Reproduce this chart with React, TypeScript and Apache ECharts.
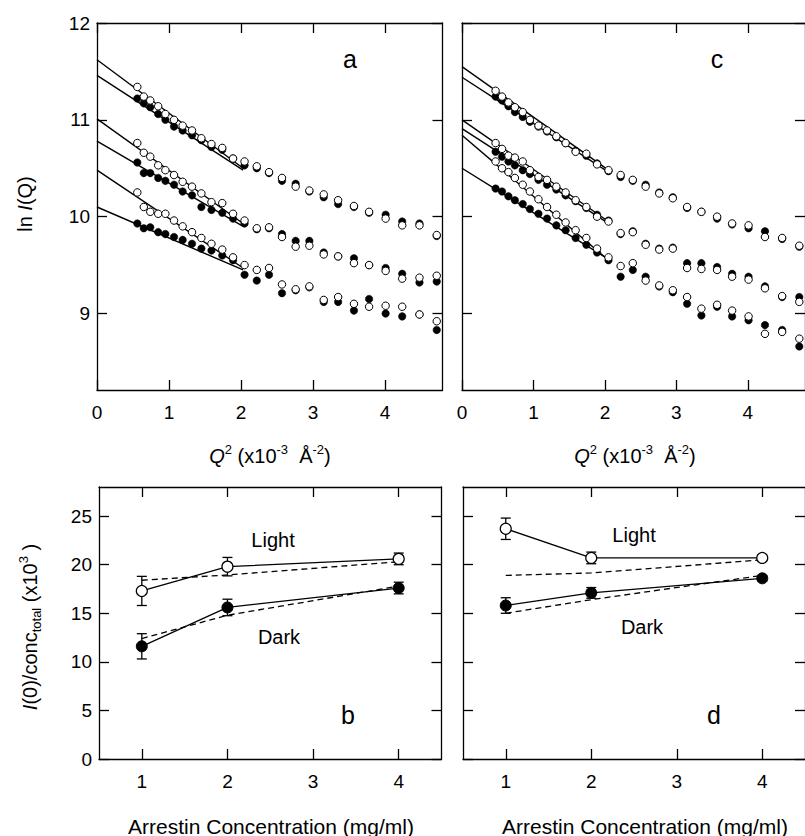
import React, { useEffect, useRef } from 'react';
import * as echarts from 'echarts';

const FONT = '"Liberation Sans", Arial, Helvetica, sans-serif';
const BLACK = '#000';

// ---------- Panel a (Guinier plot, left) ----------
const qA = [0.56, 0.65, 0.74, 0.85, 0.95, 1.07, 1.19, 1.32, 1.45, 1.59, 1.74, 1.89, 2.05, 2.22, 2.39, 2.57, 2.76, 2.95, 3.15, 3.35, 3.57, 3.78, 4.01, 4.24, 4.48, 4.72];
const aTopOpen = [11.34, 11.24, 11.2, 11.14, 11.06, 11.0, 10.94, 10.89, 10.81, 10.75, 10.71, 10.6, 10.57, 10.52, 10.46, 10.4, 10.31, 10.27, 10.23, 10.17, 10.11, 10.05, 9.98, 9.91, 9.91, 9.81];
const aTopFilled = [11.22, 11.17, 11.13, 11.06, 11.0, 10.93, 10.89, 10.84, 10.79, 10.72, 10.69, 10.6, 10.53, 10.5, 10.45, 10.37, 10.34, 10.26, 10.2, 10.13, 10.1, 10.04, 10.02, 9.95, 9.93, 9.8];
const aMidOpen = [10.76, 10.66, 10.62, 10.53, 10.48, 10.43, 10.36, 10.31, 10.24, 10.15, 10.14, 10.03, 9.96, 9.88, 9.89, 9.79, 9.69, 9.7, 9.61, 9.59, 9.52, 9.5, 9.44, 9.36, 9.37, 9.39];
const aMidFilled = [10.56, 10.45, 10.45, 10.4, 10.37, 10.33, 10.26, 10.22, 10.1, 10.07, 10.04, 9.98, 9.93, 9.87, 9.88, 9.82, 9.75, 9.75, 9.63, 9.59, 9.57, 9.5, 9.47, 9.41, 9.32, 9.33];
const aLowOpen = [10.25, 10.1, 10.05, 10.03, 10.03, 9.96, 9.9, 9.84, 9.78, 9.72, 9.66, 9.58, 9.5, 9.45, 9.47, 9.3, 9.25, 9.28, 9.14, 9.17, 9.1, 9.07, 9.08, 9.07, 8.99, 8.92];
const aLowFilled = [9.93, 9.88, 9.89, 9.84, 9.82, 9.79, 9.76, 9.72, 9.67, 9.65, 9.6, 9.55, 9.4, 9.34, 9.4, 9.21, 9.24, 9.27, 9.12, 9.12, 9.03, 9.15, 9.0, 8.97, 8.99, 8.83];
const aFitX = [0, 2.03];
const aFitTopOpen = [11.62, 10.5];
const aFitTopFilled = [11.46, 10.48];
const aFitMidOpen = [11.01, 9.93];
const aFitMidFilled = [10.78, 9.9];
const aFitLowOpen = [10.48, 9.47];
const aFitLowFilled = [10.1, 9.45];

// ---------- Panel c (Guinier plot, right) ----------
const qC = [0.47, 0.56, 0.65, 0.74, 0.85, 0.95, 1.07, 1.19, 1.32, 1.45, 1.59, 1.74, 1.89, 2.05, 2.22, 2.39, 2.57, 2.76, 2.95, 3.15, 3.35, 3.57, 3.78, 4.01, 4.24, 4.48, 4.72];
const cTopOpen = [11.3, 11.24, 11.18, 11.13, 11.08, 11.0, 10.94, 10.89, 10.83, 10.76, 10.67, 10.65, 10.54, 10.48, 10.43, 10.38, 10.31, 10.24, 10.19, 10.1, 10.05, 10.0, 9.93, 9.91, 9.79, 9.78, 9.7];
const cTopFilled = [11.24, 11.2, 11.14, 11.08, 11.03, 10.98, 10.93, 10.88, 10.82, 10.76, 10.68, 10.63, 10.55, 10.47, 10.41, 10.37, 10.33, 10.25, 10.2, 10.09, 10.05, 9.98, 9.92, 9.88, 9.85, 9.77, 9.69];
const cMidOpen = [10.76, 10.7, 10.63, 10.61, 10.57, 10.48, 10.41, 10.38, 10.31, 10.25, 10.17, 10.1, 10.0, 9.95, 9.83, 9.84, 9.71, 9.66, 9.67, 9.47, 9.46, 9.45, 9.38, 9.35, 9.26, 9.18, 9.12];
const cMidFilled = [10.67, 10.62, 10.57, 10.53, 10.48, 10.44, 10.38, 10.33, 10.28, 10.22, 10.16, 10.09, 10.02, 9.96, 9.82, 9.85, 9.72, 9.67, 9.68, 9.52, 9.52, 9.48, 9.41, 9.38, 9.28, 9.17, 9.17];
const cLowOpen = [10.57, 10.5, 10.46, 10.4, 10.33, 10.26, 10.18, 10.1, 10.02, 9.94, 9.86, 9.78, 9.67, 9.58, 9.49, 9.52, 9.34, 9.29, 9.24, 9.17, 9.05, 9.09, 9.03, 8.97, 8.79, 8.81, 8.74];
const cLowFilled = [10.29, 10.26, 10.21, 10.17, 10.13, 10.08, 10.03, 9.98, 9.91, 9.86, 9.78, 9.71, 9.63, 9.55, 9.38, 9.45, 9.38, 9.28, 9.22, 9.1, 8.98, 9.07, 8.97, 8.93, 8.88, 8.83, 8.66];
const cFitX = [0, 2.05];
const cFitTopOpen = [11.55, 10.48];
const cFitTopFilled = [11.44, 10.46];
const cFitMidOpen = [11.0, 9.95];
const cFitMidFilled = [10.91, 9.93];
const cFitLowOpen = [10.84, 9.55];
const cFitLowFilled = [10.5, 9.56];

// ---------- Panels b & d ----------
const conc = [1, 2, 4];
const bLight = [17.3, 19.8, 20.6];
const bLightErr = [1.5, 0.95, 0.6];
const bLightFit = [18.4, 18.95, 20.3];
const bDark = [11.6, 15.6, 17.6];
const bDarkErr = [1.3, 0.85, 0.6];
const bDarkFit = [12.4, 14.8, 17.8];
const dLight = [23.7, 20.7, 20.7];
const dLightErr = [1.1, 0.6, 0.3];
const dLightFit = [18.9, 19.15, 20.5];
const dDark = [15.8, 17.1, 18.6];
const dDarkErr = [0.8, 0.55, 0.3];
const dDarkFit = [15.0, 16.4, 18.9];

// ---------- Ticks ----------
const q2Ticks = [0, 1, 2, 3, 4];
const lnTicks = [9, 10, 11, 12];
const concTicks = [1, 2, 3, 4];
const ratioTicks = [0, 5, 10, 15, 20, 25];

const zip = (xs: number[], ys: number[]) => xs.map((x, i) => [x, ys[i]]);

const lineStyle = { color: BLACK, width: 1.3 };

function xAxes(g: number, min: number, max: number, ticks: number[], labels: boolean) {
  const base: any = {
    type: 'value', gridIndex: g, min, max,
    splitLine: { show: false },
    axisLine: { show: true, onZero: false, lineStyle },
    axisTick: { show: true, inside: true, length: 10, customValues: ticks, lineStyle },
  };
  return [
    { ...base, position: 'bottom', axisLabel: { show: labels, customValues: ticks, margin: 13, color: BLACK, fontSize: 19, fontFamily: FONT } },
    { ...base, position: 'top', axisLabel: { show: false } },
  ];
}

function yAxes(g: number, min: number, max: number, ticks: number[], labels: boolean) {
  const base: any = {
    type: 'value', gridIndex: g, min, max,
    splitLine: { show: false },
    axisLine: { show: true, onZero: false, lineStyle },
    axisTick: { show: true, inside: true, length: 10, customValues: ticks, lineStyle },
  };
  return [
    { ...base, position: 'left', axisLabel: { show: labels, customValues: ticks, margin: 7, color: BLACK, fontSize: 19, fontFamily: FONT } },
    { ...base, position: 'right', axisLabel: { show: false } },
  ];
}

function scatter(g: number, xs: number[], ys: number[], open: boolean) {
  return {
    type: 'scatter', xAxisIndex: 2 * g, yAxisIndex: 2 * g, silent: true,
    data: zip(xs, ys), symbol: 'circle', symbolSize: 7.5,
    itemStyle: open
      ? { color: '#fff', borderColor: BLACK, borderWidth: 1, opacity: 1 }
      : { color: BLACK, borderColor: BLACK, borderWidth: 0.5, opacity: 1 },
    z: open ? 4 : 3,
  };
}

function fitLine(g: number, xs: number[], ys: number[]) {
  return {
    type: 'line', xAxisIndex: 2 * g, yAxisIndex: 2 * g, silent: true,
    data: zip(xs, ys), symbol: 'none', showSymbol: false,
    lineStyle: { color: BLACK, width: 1.4 }, z: 2,
  };
}

function errorBars(g: number, xs: number[], ys: number[], errs: number[]) {
  return {
    type: 'custom', xAxisIndex: 2 * g, yAxisIndex: 2 * g, silent: true, z: 2,
    data: xs.map((x, i) => [x, ys[i] - errs[i], ys[i] + errs[i]]),
    encode: { x: 0, y: [1, 2] },
    renderItem: (_p: any, api: any) => {
      const lo = api.coord([api.value(0), api.value(1)]);
      const hi = api.coord([api.value(0), api.value(2)]);
      const hw = 5;
      const style = { stroke: BLACK, lineWidth: 1.3 };
      return {
        type: 'group',
        children: [
          { type: 'line', shape: { x1: lo[0], y1: lo[1], x2: hi[0], y2: hi[1] }, style },
          { type: 'line', shape: { x1: lo[0] - hw, y1: lo[1], x2: lo[0] + hw, y2: lo[1] }, style },
          { type: 'line', shape: { x1: hi[0] - hw, y1: hi[1], x2: hi[0] + hw, y2: hi[1] }, style },
        ],
      };
    },
  };
}

function dataLine(g: number, ys: number[], open: boolean) {
  return {
    type: 'line', xAxisIndex: 2 * g, yAxisIndex: 2 * g, silent: true,
    data: zip(conc, ys), symbol: 'circle', symbolSize: 11, showSymbol: true,
    lineStyle: { color: BLACK, width: 1.3 },
    itemStyle: open
      ? { color: '#fff', borderColor: BLACK, borderWidth: 1.2, opacity: 1 }
      : { color: BLACK, borderColor: BLACK, borderWidth: 1, opacity: 1 },
    z: 4,
  };
}

function dashLine(g: number, ys: number[]) {
  return {
    type: 'line', xAxisIndex: 2 * g, yAxisIndex: 2 * g, silent: true,
    data: zip(conc, ys), symbol: 'none', showSymbol: false,
    lineStyle: { color: BLACK, width: 1.3, type: [6, 4] }, z: 3,
  };
}

const txt = (x: number, y: number, text: string, fontSize: number, extra: any = {}) => ({
  type: 'text', x, y, silent: true, ...extra,
  style: { text, fontSize, fontFamily: FONT, fill: BLACK, align: 'center', verticalAlign: 'middle', ...(extra.style || {}) },
});

const richBase = {
  n: { fontSize: 20, fontFamily: FONT, fill: BLACK, lineHeight: 26 },
  i: { fontSize: 20, fontFamily: FONT, fill: BLACK, lineHeight: 26, fontStyle: 'italic' },
  sup: { fontSize: 13, fontFamily: FONT, fill: BLACK, lineHeight: 13, verticalAlign: 'top' },
  sub: { fontSize: 13, fontFamily: FONT, fill: BLACK, lineHeight: 13, verticalAlign: 'bottom' },
};

const q2Title = '{i|Q}{sup|2}{n| (x10}{sup|-3}{n|  Å}{sup|-2}{n|)}';
const lnTitle = '{n|ln }{i|I}{n|(Q)}';
const ratioTitle = '{i|I}{n|(0)/conc}{sub|total}{n| (x10}{sup|3}{n| )}';

export default function App() {
  const ref = useRef<HTMLDivElement>(null);
  useEffect(() => {
    if (!ref.current) return;
    const chart = echarts.init(ref.current, null, { renderer: 'svg' });
    const option: any = {
      animation: false,
      backgroundColor: '#fff',
      grid: [
        { left: 97, top: 23, width: 345.5, height: 367 },
        { left: 462, top: 23, width: 345.5, height: 367 },
        { left: 99, top: 487, width: 342.5, height: 272 },
        { left: 463, top: 487, width: 342.5, height: 272 },
      ],
      xAxis: [
        ...xAxes(0, 0, 4.8, q2Ticks, true),
        ...xAxes(1, 0, 4.8, q2Ticks, true),
        ...xAxes(2, 0.5, 4.5, concTicks, true),
        ...xAxes(3, 0.5, 4.5, concTicks, true),
      ],
      yAxis: [
        ...yAxes(0, 8.21, 12, lnTicks, true),
        ...yAxes(1, 8.21, 12, lnTicks, false),
        ...yAxes(2, 0, 28, ratioTicks, true),
        ...yAxes(3, 0, 28, ratioTicks, false),
      ],
      series: [
        // panel a
        fitLine(0, aFitX, aFitTopOpen),
        fitLine(0, aFitX, aFitTopFilled),
        fitLine(0, aFitX, aFitMidOpen),
        fitLine(0, aFitX, aFitMidFilled),
        fitLine(0, aFitX, aFitLowOpen),
        fitLine(0, aFitX, aFitLowFilled),
        scatter(0, qA, aTopFilled, false),
        scatter(0, qA, aMidFilled, false),
        scatter(0, qA, aLowFilled, false),
        scatter(0, qA, aTopOpen, true),
        scatter(0, qA, aMidOpen, true),
        scatter(0, qA, aLowOpen, true),
        // panel c
        fitLine(1, cFitX, cFitTopOpen),
        fitLine(1, cFitX, cFitTopFilled),
        fitLine(1, cFitX, cFitMidOpen),
        fitLine(1, cFitX, cFitMidFilled),
        fitLine(1, cFitX, cFitLowOpen),
        fitLine(1, cFitX, cFitLowFilled),
        scatter(1, qC, cTopFilled, false),
        scatter(1, qC, cMidFilled, false),
        scatter(1, qC, cLowFilled, false),
        scatter(1, qC, cTopOpen, true),
        scatter(1, qC, cMidOpen, true),
        scatter(1, qC, cLowOpen, true),
        // panel b
        errorBars(2, conc, bLight, bLightErr),
        errorBars(2, conc, bDark, bDarkErr),
        dashLine(2, bLightFit),
        dashLine(2, bDarkFit),
        dataLine(2, bDark, false),
        dataLine(2, bLight, true),
        // panel d
        errorBars(3, conc, dLight, dLightErr),
        errorBars(3, conc, dDark, dDarkErr),
        dashLine(3, dLightFit),
        dashLine(3, dDarkFit),
        dataLine(3, dDark, false),
        dataLine(3, dLight, true),
      ],
      graphic: [
        txt(350, 59, 'a', 25),
        txt(717, 59, 'c', 25),
        txt(348, 715, 'b', 25),
        txt(714, 715, 'd', 25),
        txt(273, 540, 'Light', 20),
        txt(279, 637, 'Dark', 20),
        txt(634, 535, 'Light', 20),
        txt(642, 627, 'Dark', 20),
        txt(270, 456, '', 20, { style: { text: q2Title, rich: richBase } }),
        txt(635, 456, '', 20, { style: { text: q2Title, rich: richBase } }),
        txt(271, 826, 'Arrestin Concentration (mg/ml)', 21),
        txt(645, 826, 'Arrestin Concentration (mg/ml)', 21),
        txt(25, 204, '', 20, { rotation: Math.PI / 2, style: { text: lnTitle, rich: richBase } }),
        txt(30, 627, '', 20, { rotation: Math.PI / 2, style: { text: ratioTitle, rich: richBase } }),
      ],
    };
    chart.setOption(option);
    return () => chart.dispose();
  }, []);
  return <div ref={ref} style={{ position: 'absolute', left: 0, top: 0, width: 805, height: 836 }} />;
}
